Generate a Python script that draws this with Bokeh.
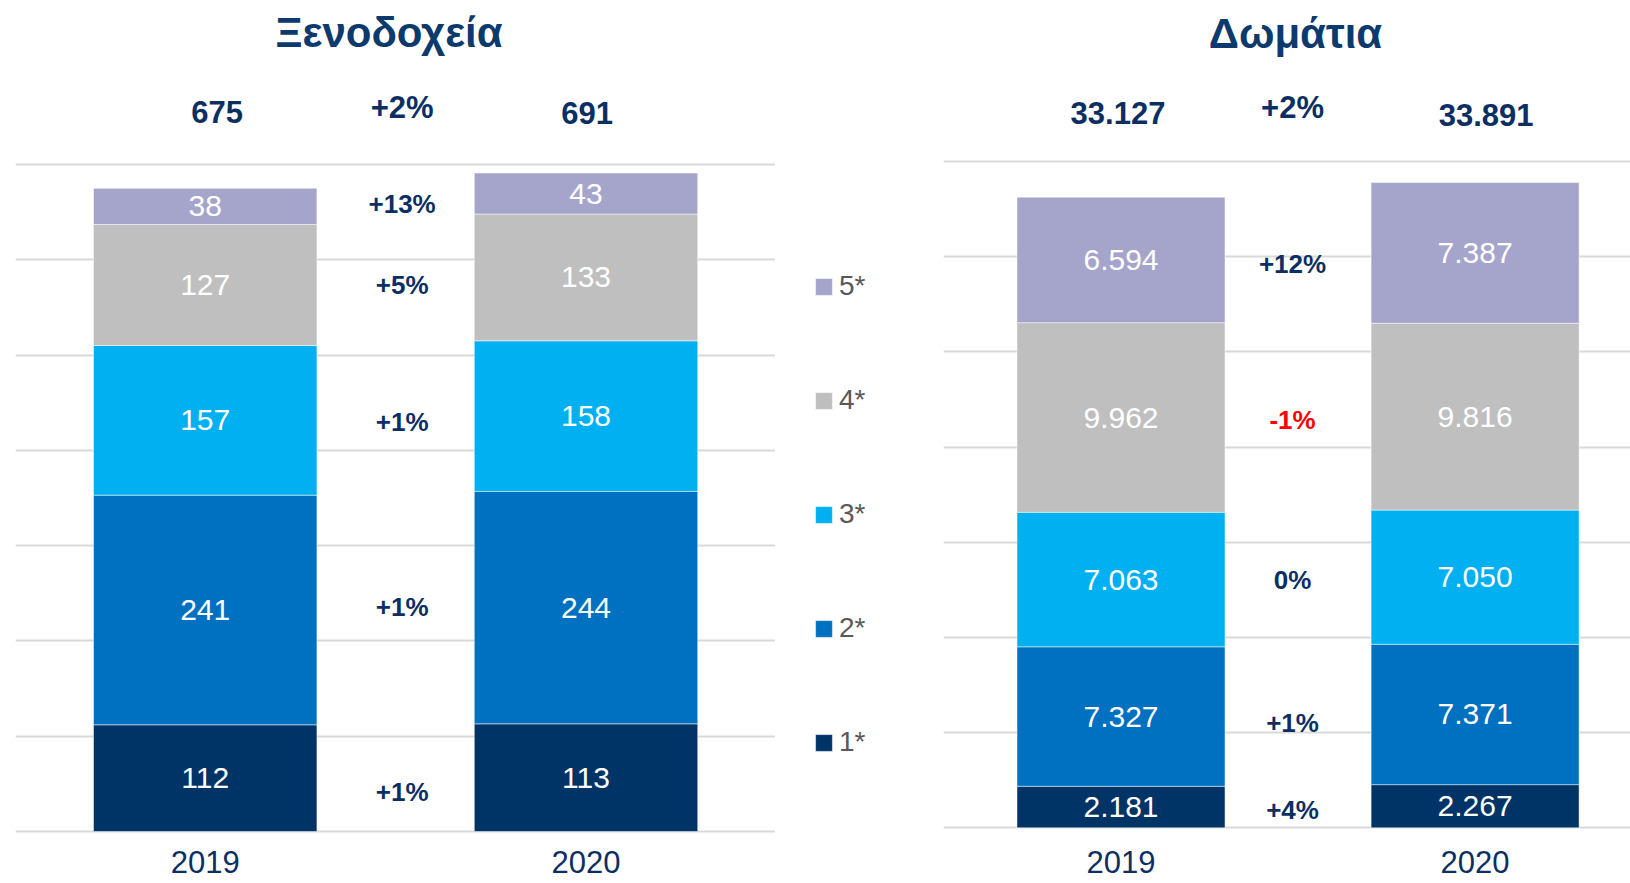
from bokeh.plotting import figure
from bokeh.layouts import row
from bokeh.models import Range1d, Grid, FixedTicker, ColumnDataSource, Legend, LegendItem
from bokeh.core.properties import value
from bokeh.embed import file_html
from bokeh.resources import INLINE

# ---------------- data ----------------
years = ["2019", "2020"]
classes = ["1*", "2*", "3*", "4*", "5*"]
hotels_2019 = [112, 241, 157, 127, 38]
hotels_2020 = [113, 244, 158, 133, 43]
rooms_2019 = [2181, 7327, 7063, 9962, 6594]
rooms_2020 = [2267, 7371, 7050, 9816, 7387]
hotels_change = ["+1%", "+1%", "+1%", "+5%", "+13%"]
rooms_change = ["+4%", "+1%", "0%", "-1%", "+12%"]
hotels_total_change = "+2%"
rooms_total_change = "+2%"
hotels_ticks = [0, 100, 200, 300, 400, 500, 600, 700]
rooms_ticks = [0, 5000, 10000, 15000, 20000, 25000, 30000, 35000]
titles = ["Ξενοδοχεία", "Δωμάτια"]

# ---------------- style ----------------
colors = ["#003366", "#0070C0", "#00B0F0", "#BFBFBF", "#A5A5CC"]
NAVY = "#0B2F63"
TITLE_C = "#0D3A6C"
FONT_NAME = "Liberation Sans"
FONT = value(FONT_NAME)
H = 883
KEYS = [f"c{i}" for i in range(len(classes))]


def fmt(v):
    return f"{v:,}".replace(",", ".")


def base_fig(width, xr, yr, min_left):
    p = figure(width=width, height=H, x_range=Range1d(*xr), y_range=Range1d(*yr),
               x_axis_type=None, y_axis_type=None, toolbar_location=None, tools="",
               output_backend="svg", min_border_left=min_left, min_border_right=0,
               min_border_top=0, min_border_bottom=0)
    p.outline_line_color = None
    p.background_fill_color = "white"
    p.border_fill_color = "white"
    return p


def stack_source(v19, v20):
    data = {"x": [0, 1]}
    for k, a, b in zip(KEYS, v19, v20):
        data[k] = [a, b]
    return ColumnDataSource(data)


def make_panel(title, v19, v20, changes, total_change, ticks, xr, yr, width,
               min_left, title_dx, title_cy, mid_dx,
               total_dx, total_cy, change_cy, pct_dy, bar_w, year_dy):
    p = base_fig(width, xr, yr, min_left)
    grid = Grid(dimension=1, ticker=FixedTicker(ticks=ticks),
                grid_line_color="#D9D9D9", grid_line_width=2)
    p.add_layout(grid)

    src = stack_source(v19, v20)
    p.vbar_stack(KEYS, x="x", width=bar_w, color=colors, source=src,
                 line_color="white", line_width=0.8, line_alpha=0.6)

    # value labels inside segments
    lx, ly, lt = [], [], []
    for xi, vals in enumerate([v19, v20]):
        cum = 0
        for v in vals:
            lx.append(xi)
            ly.append(cum + v / 2)
            lt.append(fmt(v))
            cum += v
    p.text(x=lx, y=ly, text=lt, text_color="white", text_font=FONT,
           text_font_size="30px", text_align="center", text_baseline="alphabetic")

    # change labels between the bars
    cx, cy, ct, cc = [], [], [], []
    cum = 0
    for v, c in zip(v19, changes):
        cx.append(0.5)
        cy.append(cum + v / 2)
        ct.append(c)
        cc.append("#FF0000" if c.startswith("-") else NAVY)
        cum += v
    p.text(x=cx, y=cy, text=ct, text_color=cc, text_font=FONT, text_font_size="26px",
           text_font_style="bold", text_align="center", text_baseline="alphabetic",
           x_offset=mid_dx, y_offset=pct_dy)

    top = yr[1]
    totals = [sum(v19), sum(v20)]
    p.text(x=[0, 1], y=[top, top], text=[fmt(t) for t in totals], text_color=NAVY,
           text_font=FONT, text_font_size="31px", text_font_style="bold",
           text_align="center", text_baseline="alphabetic", x_offset=total_dx,
           y_offset=total_cy)
    p.text(x=[0.5], y=[top], text=[total_change], text_color=NAVY, text_font=FONT,
           text_font_size="31px", text_font_style="bold", text_align="center",
           text_baseline="alphabetic", x_offset=mid_dx, y_offset=change_cy)
    p.text(x=[0.5], y=[top], text=[title], text_color=TITLE_C, text_font=FONT,
           text_font_size="42px", text_font_style="bold", text_align="center",
           text_baseline="alphabetic", x_offset=title_dx, y_offset=title_cy)
    # year labels
    p.text(x=[0, 1], y=[0, 0], text=years, text_color=NAVY, text_font=FONT,
           text_font_size="31px", text_align="center", text_baseline="alphabetic",
           y_offset=year_dy)
    return p


p1 = make_panel(titles[0], hotels_2019, hotels_2020, hotels_change,
                hotels_total_change, hotels_ticks,
                xr=(-0.4982, 1.4976), yr=(-54.57, 872.11), width=775,
                min_left=15, title_dx=-6.6, title_cy=32,
                mid_dx=6.5, total_dx=[12, 1], total_cy=[111, 112.8], change_cy=107,
                pct_dy=[14, -2.5, 2, 0, -2], bar_w=0.5867, year_dy=30.5)

p2 = make_panel(titles[1], rooms_2019, rooms_2020, rooms_change,
                rooms_total_change, rooms_ticks,
                xr=(-0.5013, 1.4389), yr=(-2925.9, 43457.2), width=687,
                min_left=0, title_dx=-2.6, title_cy=32.7,
                mid_dx=-5.5, total_dx=[-3, 11], total_cy=[112.8, 114.2], change_cy=107,
                pct_dy=[3, 6, 0, 2, 4], bar_w=0.5874, year_dy=34)

# legend column between the two panels (its bars are hidden; only the legend shows)
pL = base_fig(168, (0, 1), (0, 1), 0)
leg_rs = pL.vbar_stack(KEYS, x="x", width=0.5, color=colors,
                       source=stack_source(hotels_2019, hotels_2020),
                       line_color="white", line_width=0.8, line_alpha=0.6)
for r in leg_rs:
    r.visible = False
items = [LegendItem(label=c, renderers=[r]) for c, r in zip(classes, leg_rs)][::-1]
legend = Legend(items=items, location=(28, 113), orientation="vertical",
                glyph_width=21, glyph_height=21, label_standoff=5, spacing=78,
                label_height=36, padding=10, margin=0,
                label_text_font=FONT_NAME, label_text_font_size="28px",
                label_text_color="#595959", border_line_alpha=0,
                background_fill_alpha=0, inactive_fill_alpha=0,
                click_policy="none")
pL.add_layout(legend)

layout = row(p1, pL, p2)
open("out.html", "w").write(file_html(layout, INLINE))
